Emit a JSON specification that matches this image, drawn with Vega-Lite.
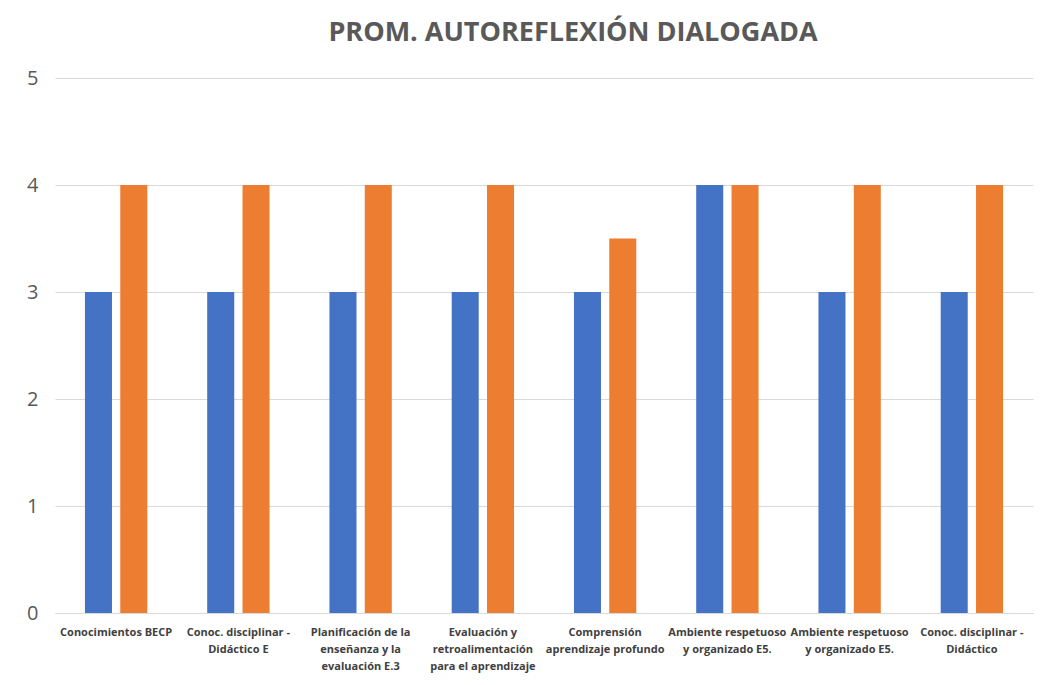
{
  "$schema": "https://vega.github.io/schema/vega-lite/v6.json",
  "width": 978,
  "height": 535,
  "autosize": {"type": "none"},
  "padding": {"left": 55, "top": 78, "right": 11, "bottom": 72},
  "background": "white",
  "title": {
    "text": "PROM. AUTOREFLEXIÓN DIALOGADA",
    "font": "Open Sans",
    "fontSize": 27,
    "fontWeight": "bold",
    "color": "#595959",
    "anchor": "middle",
    "dx": 29,
    "offset": 21
  },
  "data": {
    "values": [
      {"cat": "Conocimientos BECP", "serie": "A", "valor": 3},
      {"cat": "Conocimientos BECP", "serie": "B", "valor": 4},
      {"cat": "Conoc. disciplinar -|Didáctico E", "serie": "A", "valor": 3},
      {"cat": "Conoc. disciplinar -|Didáctico E", "serie": "B", "valor": 4},
      {"cat": "Planificación de la|enseñanza y la|evaluación E.3", "serie": "A", "valor": 3},
      {"cat": "Planificación de la|enseñanza y la|evaluación E.3", "serie": "B", "valor": 4},
      {"cat": "Evaluación y|retroalimentación|para el aprendizaje", "serie": "A", "valor": 3},
      {"cat": "Evaluación y|retroalimentación|para el aprendizaje", "serie": "B", "valor": 4},
      {"cat": "Comprensión|aprendizaje profundo", "serie": "A", "valor": 3},
      {"cat": "Comprensión|aprendizaje profundo", "serie": "B", "valor": 3.5},
      {"cat": "Ambiente respetuoso|y organizado E5.", "serie": "A", "valor": 4},
      {"cat": "Ambiente respetuoso|y organizado E5.", "serie": "B", "valor": 4},
      {"cat": "Ambiente respetuoso|y organizado E5.|", "serie": "A", "valor": 3},
      {"cat": "Ambiente respetuoso|y organizado E5.|", "serie": "B", "valor": 4},
      {"cat": "Conoc. disciplinar -|Didáctico", "serie": "A", "valor": 3},
      {"cat": "Conoc. disciplinar -|Didáctico", "serie": "B", "valor": 4}
    ]
  },
  "mark": {"type": "bar"},
  "encoding": {
    "x": {
      "field": "cat",
      "type": "nominal",
      "sort": null,
      "title": null,
      "scale": {"paddingInner": 0.49, "paddingOuter": 0.245},
      "axis": {
        "labelExpr": "split(datum.label, '|')",
        "labelAngle": 0,
        "labelAlign": "center",
        "labelBaseline": "top",
        "labelFont": "Open Sans",
        "labelFontSize": 11,
        "labelFontWeight": "bold",
        "labelColor": "#404040",
        "labelLineHeight": 17,
        "labelPadding": 13,
        "labelLimit": 200,
        "labelOverlap": false,
        "ticks": false,
        "domainColor": "#d9d9d9",
        "domainWidth": 1
      }
    },
    "xOffset": {
      "field": "serie",
      "type": "nominal",
      "scale": {"paddingInner": 0.235, "paddingOuter": 0}
    },
    "y": {
      "field": "valor",
      "type": "quantitative",
      "title": null,
      "scale": {"domain": [0, 5], "nice": false},
      "axis": {
        "values": [0, 1, 2, 3, 4, 5],
        "labelFont": "Open Sans",
        "labelFontSize": 20,
        "labelColor": "#595959",
        "labelPadding": 17,
        "ticks": false,
        "domain": false,
        "gridColor": "#d9d9d9",
        "gridWidth": 1
      }
    },
    "color": {
      "field": "serie",
      "type": "nominal",
      "scale": {"domain": ["A", "B"], "range": ["#4472C4", "#ED7D31"]},
      "legend": null
    }
  },
  "config": {"view": {"stroke": null}}
}
